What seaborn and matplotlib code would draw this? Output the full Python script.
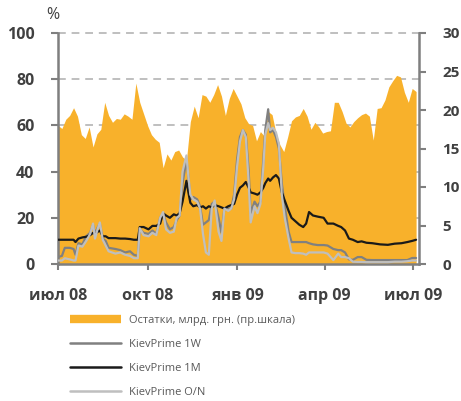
import matplotlib
matplotlib.use("Agg")
import matplotlib.pyplot as plt
import seaborn as sns
import pandas as pd
from matplotlib.lines import Line2D
from matplotlib.ticker import FixedLocator

# ---------------- data ----------------
area_start = "2008-07-01"
area_step = "4D"
balances = [18.0, 17.6, 18.8, 19.3, 20.3, 19.2, 16.8, 16.3, 17.8, 15.2,
            16.9, 17.5, 21.0, 19.3, 18.4, 18.9, 18.8, 19.5, 19.2, 18.8,
            23.5, 21.0, 19.5, 18.0, 16.8, 16.2, 15.8, 12.5, 14.3, 13.5,
            14.6, 14.8, 13.9, 13.5, 18.5, 20.5, 19.0, 22.0, 21.8, 21.0,
            22.0, 23.3, 21.8, 19.3, 21.5, 22.8, 21.8, 20.8, 19.0, 18.2,
            18.0, 16.0, 17.2, 16.6, 19.8, 19.4, 17.0, 15.5, 14.6, 16.5,
            18.6, 19.1, 19.3, 20.2, 19.2, 17.5, 18.4, 17.8, 17.0, 17.2,
            17.3, 21.0, 21.0, 19.8, 18.3, 17.8, 18.5, 19.0, 19.4, 19.6,
            19.2, 16.1, 20.2, 20.3, 21.3, 23.0, 23.8, 24.5, 24.3, 22.3,
            21.0, 22.8, 22.4]

line_dates = ["2008-07-01", "2008-07-05", "2008-07-08", "2008-07-13", "2008-07-17",
              "2008-07-19", "2008-07-22", "2008-07-26", "2008-07-30", "2008-08-03",
              "2008-08-06", "2008-08-08", "2008-08-11", "2008-08-13", "2008-08-16",
              "2008-08-19", "2008-08-22", "2008-08-29", "2008-09-03", "2008-09-08",
              "2008-09-13", "2008-09-17", "2008-09-21", "2008-09-23", "2008-09-27",
              "2008-10-02", "2008-10-06", "2008-10-10", "2008-10-14", "2008-10-17",
              "2008-10-20", "2008-10-24", "2008-10-28", "2008-10-31", "2008-11-03",
              "2008-11-06", "2008-11-10", "2008-11-12", "2008-11-14", "2008-11-17",
              "2008-11-21", "2008-11-24", "2008-11-27", "2008-11-30", "2008-12-03",
              "2008-12-06", "2008-12-09", "2008-12-13", "2008-12-16", "2008-12-19",
              "2008-12-23", "2008-12-26", "2008-12-29", "2009-01-01", "2009-01-04",
              "2009-01-07", "2009-01-10", "2009-01-13", "2009-01-15", "2009-01-19",
              "2009-01-22", "2009-01-25", "2009-01-28", "2009-01-30", "2009-02-02",
              "2009-02-04", "2009-02-07", "2009-02-10", "2009-02-13", "2009-02-16",
              "2009-02-19", "2009-02-23", "2009-02-26", "2009-03-02", "2009-03-06",
              "2009-03-10", "2009-03-13", "2009-03-16", "2009-03-20", "2009-03-25",
              "2009-03-31", "2009-04-04", "2009-04-10", "2009-04-15", "2009-04-18",
              "2009-04-22", "2009-04-26", "2009-04-30", "2009-05-05", "2009-05-09",
              "2009-05-14", "2009-05-20", "2009-05-28", "2009-06-05", "2009-06-12",
              "2009-06-19", "2009-06-25", "2009-06-30", "2009-07-04"]

kp_1m = [10.5, 10.5, 10.5, 10.5, 10.5, 9.5, 11.0, 11.5, 11.8, 12.5,
         13.5, 13.0, 14.0, 14.5, 12.0, 12.0, 11.2, 11.2, 11.0, 11.0,
         10.8, 10.5, 10.5, 16.0, 16.0, 15.0, 16.5, 16.5, 17.5, 22.0,
         21.0, 20.0, 21.5, 21.0, 22.0, 27.0, 36.0, 31.0, 26.5, 25.0,
         25.5, 24.5, 25.0, 24.0, 25.0, 24.5, 25.5, 25.0, 24.5, 24.0,
         25.0, 25.5, 26.0, 30.0, 33.0, 34.0, 35.5, 33.0, 31.0, 30.5,
         30.0, 31.0, 33.0, 35.0, 37.0, 36.0, 37.5, 38.5, 37.0, 31.0,
         27.5, 23.0, 20.0, 18.5, 17.0, 16.0, 17.5, 22.5, 21.0, 20.5,
         20.0, 17.5, 17.5, 16.5, 16.0, 14.5, 11.0, 10.5, 9.5, 9.8,
         9.2, 9.0, 8.5, 8.3, 8.8, 9.0, 9.5, 10.0, 10.5]

kp_1w = [3.0, 3.5, 7.0, 7.0, 6.5, 4.0, 9.0, 8.5, 12.0, 13.5,
         17.0, 13.0, 16.0, 17.5, 11.0, 10.0, 7.0, 6.5, 6.0, 5.0,
         5.5, 4.0, 3.5, 15.0, 13.5, 13.0, 14.5, 13.0, 20.0, 22.0,
         18.0, 15.0, 16.0, 19.0, 21.0, 35.0, 45.0, 38.0, 28.0, 29.0,
         28.0, 25.0, 17.0, 18.0, 19.0, 26.0, 27.0, 20.0, 13.5, 24.0,
         24.0, 24.0, 30.0, 45.0, 55.0, 58.0, 56.0, 40.0, 22.0, 27.0,
         25.0, 27.0, 45.0, 58.0, 67.0, 57.0, 58.0, 55.0, 50.0, 35.0,
         25.0, 14.0, 9.5, 9.5, 9.5, 9.5, 9.5, 9.0, 8.5, 8.2,
         8.2, 8.0, 6.5, 6.0, 6.0, 5.0, 2.0, 1.8, 3.0, 3.0,
         1.8, 1.7, 1.7, 1.7, 1.7, 1.7, 1.7, 2.6, 2.6]

kp_on = [1.5, 1.5, 2.5, 2.0, 1.5, 1.5, 8.0, 7.5, 10.0, 13.0,
         17.5, 11.0, 15.5, 18.0, 10.5, 8.0, 5.5, 4.5, 5.0, 4.0,
         3.5, 2.5, 2.5, 15.5, 12.5, 12.0, 13.5, 12.5, 20.0, 22.5,
         15.0, 13.5, 14.0, 20.0, 21.0, 40.0, 47.0, 38.0, 30.0, 28.0,
         27.0, 24.0, 13.0, 5.0, 4.0, 24.0, 27.5, 14.0, 10.0, 24.0,
         23.0, 24.0, 28.0, 42.0, 53.0, 58.0, 55.0, 35.0, 18.0, 25.0,
         22.0, 26.0, 42.0, 56.0, 61.0, 58.0, 59.0, 57.0, 52.0, 30.0,
         20.0, 11.0, 5.0, 4.7, 4.7, 4.5, 4.0, 5.0, 5.0, 5.0,
         5.0, 4.5, 1.7, 4.5, 3.0, 3.0, 2.5, 1.0, 0.9, 0.9,
         0.8, 0.8, 0.8, 0.8, 1.0, 1.0, 1.2, 1.5, 1.5]

x_tick_dates = ["2008-07-01", "2008-10-01", "2009-01-01", "2009-04-01", "2009-07-01"]
x_tick_labels = ["июл 08", "окт 08", "янв 09", "апр 09", "июл 09"]
left_ticks = [0, 20, 40, 60, 80, 100]
right_ticks = [0, 5, 10, 15, 20, 25, 30]
legend_labels = ["Остатки, млрд. грн. (пр.шкала)", "KievPrime 1W",
                 "KievPrime 1M", "KievPrime O/N"]

# ---------------- styling ----------------
sns.set_theme(style="white")
plt.rcParams["font.family"] = ["Open Sans", "DejaVu Sans"]

C_AREA = "#F8B12B"
C_1W = "#808080"
C_1M = "#1A1A1A"
C_ON = "#BFBFBF"
C_SPINE = "#7F7F7F"
C_TXT = "#404040"
C_GRID = "#BFBFBF"
GRID_LS = (0, (4, 3))

area_df = pd.DataFrame({
    "date": pd.date_range(area_start, periods=len(balances), freq=area_step),
    "value": balances,
})
lines_df = pd.DataFrame({
    "date": pd.to_datetime(line_dates),
    "1W": kp_1w, "1M": kp_1m, "ON": kp_on,
})

fig = plt.figure(figsize=(4.61, 4.01), dpi=100)
ax_r = fig.add_axes([58 / 461, 1 - 264 / 401, 361 / 461, 231 / 401])
ax_r.fill_between(area_df["date"], 0, area_df["value"], color=C_AREA, lw=0, zorder=2)
ax_r.set_ylim(0, 30)
ax_r.yaxis.set_minor_locator(FixedLocator([t * 30 / 100 for t in left_ticks[1:-1]]))
ax_r.grid(which="minor", axis="y", color=C_GRID, ls=GRID_LS, lw=1.4, zorder=1)
ax_r.grid(which="major", visible=False)
ax_r.set_axisbelow(True)
# top grid line (100 % level) at the upper edge of the plot
ax_r.axhline(ax_r.get_ylim()[1], color=C_GRID, ls=GRID_LS, lw=1.4,
             clip_on=False, zorder=1)

ax_l = ax_r.twinx()
sns.lineplot(data=lines_df, x="date", y="1W", ax=ax_l, color=C_1W, lw=1.6)
sns.lineplot(data=lines_df, x="date", y="1M", ax=ax_l, color=C_1M, lw=1.6)
sns.lineplot(data=lines_df, x="date", y="ON", ax=ax_l, color=C_ON, lw=1.6)
ax_l.set_ylim(0, 100)
ax_l.set_ylabel("")
ax_l.set_xlabel("")

# right axis (area scale)
ax_r.set_yticks(right_ticks)
ax_r.tick_params(axis="y", which="major", left=False, labelleft=False,
                 right=True, labelright=True, length=5, width=1.5,
                 color=C_SPINE, pad=12, labelsize=11, labelcolor=C_TXT)
ax_r.tick_params(axis="y", which="minor", length=0, left=False, right=False)
ax_r.set_ylabel("")

# left axis (percent scale)
ax_l.set_yticks(left_ticks)
ax_l.tick_params(axis="y", which="major", left=True, labelleft=True,
                 right=False, labelright=False, length=5, width=1.5,
                 color=C_SPINE, pad=12, labelsize=11.5, labelcolor=C_TXT)

# x axis
ax_r.set_xlim(pd.Timestamp("2008-07-01"), pd.Timestamp("2009-07-07"))
ax_r.set_xticks(pd.to_datetime(x_tick_dates))
ax_r.set_xticklabels(x_tick_labels)
ax_r.set_xlabel("")
ax_r.tick_params(axis="x", bottom=True, length=4, width=1.5, color=C_SPINE,
                 pad=13, labelsize=11.5, labelcolor=C_TXT)

for a in (ax_r, ax_l):
    for s in a.spines.values():
        s.set_visible(False)
for side in ("left", "right", "bottom"):
    ax_r.spines[side].set_visible(True)
    ax_r.spines[side].set_color(C_SPINE)
    ax_r.spines[side].set_linewidth(1.8)

for lab in ax_l.get_yticklabels() + ax_r.get_yticklabels() + ax_r.get_xticklabels():
    lab.set_fontweight("bold")

fig.text(53 / 461, 1 - 15 / 401, "%", ha="center", va="center",
         fontsize=11.5, color=C_TXT)

handles = [Line2D([], [], color=C_AREA, lw=6, solid_capstyle="butt"),
           Line2D([], [], color=C_1W, lw=1.8),
           Line2D([], [], color=C_1M, lw=1.8),
           Line2D([], [], color=C_ON, lw=1.8)]
leg = fig.legend(handles, legend_labels, loc="upper left",
                 bbox_to_anchor=(70 / 461, 1 - 315 / 401), frameon=False,
                 fontsize=8, handlelength=4.6, handletextpad=0.7,
                 labelspacing=1.18, borderpad=0, borderaxespad=0)
for t in leg.get_texts():
    t.set_color("#595959")

fig.savefig("out.png", dpi=100)
